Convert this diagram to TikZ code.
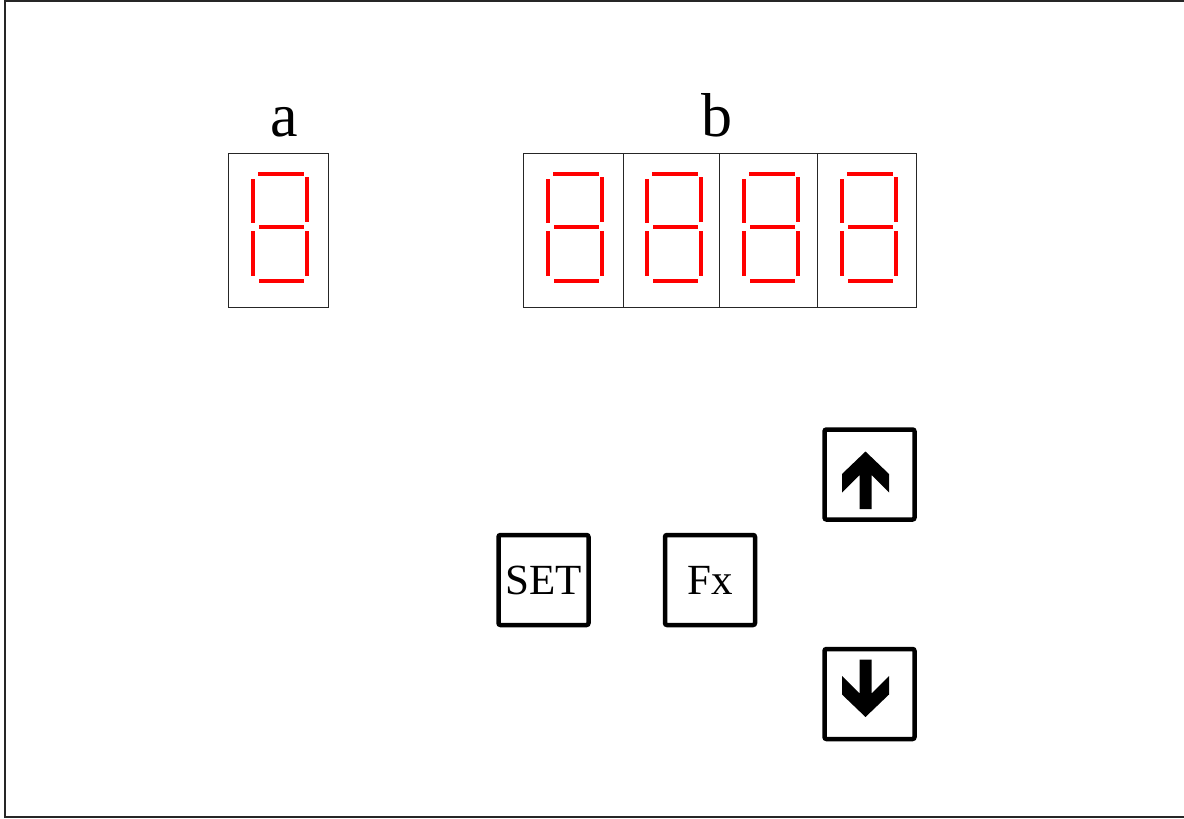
\documentclass[tikz,border=0pt]{standalone}
\usepackage{fontspec}
\setmainfont{Liberation Serif}
\tikzset{
  cell/.style={draw=black!85, line width=1pt, minimum width=#1, minimum height=154pt,
    inner sep=0pt, anchor=north west},
  seg/.style={draw=red, line width=3.3pt},
  lbl/.style={inner sep=0pt, anchor=base, font=\fontsize{62}{62}\selectfont},
  btn/.style={draw, line width=4.5pt, rounded corners=2pt, minimum width=90pt,
    minimum height=90pt, inner sep=0pt, font=\fontsize{43}{43}\selectfont},
  % seven-segment digit, origin at the top-left corner of its cell
  segdigit/.pic={
    \draw[seg] (30,21) -- (76,21);
    \draw[seg] (25,26) -- (25,70);
    \draw[seg] (79,24) -- (79,69);
    \draw[seg] (31,74) -- (76,74);
    \draw[seg] (25,78) -- (25,123);
    \draw[seg] (79,78) -- (79,123);
    \draw[seg] (31,128) -- (76,128);
  },
  % block arrow pointing up, origin at the centre of its key
  keyarrow/.pic={
    \fill (-4,-23) -- (19.5,-0.5) -- (19.5,18) -- (2,0.5) -- (2,34.5)
      -- (-10,34.5) -- (-10,0.5) -- (-27.5,18) -- (-27.5,-0.5) -- cycle;
  }
}
\begin{document}
\begin{tikzpicture}[x=1pt, y=-1pt]
  \clip (0,0) rectangle (1184,819);
  \fill[white] (0,0) rectangle (1184,819);
  % panel outline
  \draw[line width=1.3pt, black!85] (5,1) rectangle (1200,817);

  % display a: single digit
  \node[lbl] (la) at (284.5,136) {a};
  \node[cell=100pt] (ca) at (228,153) {};
  \pic at (ca.north west) {segdigit};

  % display b: four digits
  \node[lbl] (lb) at (716.5,136) {b};
  \node[cell=100pt] (cb1) at (523,153) {};
  \node[cell=96pt]  (cb2) at (623,153) {};
  \node[cell=98pt]  (cb3) at (719,153) {};
  \node[cell=99pt]  (cb4) at (817,153) {};
  \pic at (cb1.north west) {segdigit};
  \pic at ([xshift=-1pt]cb2.north west) {segdigit};
  \pic at (cb3.north west) {segdigit};
  \pic at (cb4.north west) {segdigit};

  % keys
  \node[btn] (set) at (543.5,580) {SET};
  \node[btn] (fx)  at (710,580) {Fx};
  \node[btn] (up)  at (869.5,474.5) {};
  \node[btn] (dn)  at (869.5,694) {};
  \pic at (up.center) {keyarrow};
  \pic[yscale=-1] at (dn.center) {keyarrow};
\end{tikzpicture}
\end{document}
